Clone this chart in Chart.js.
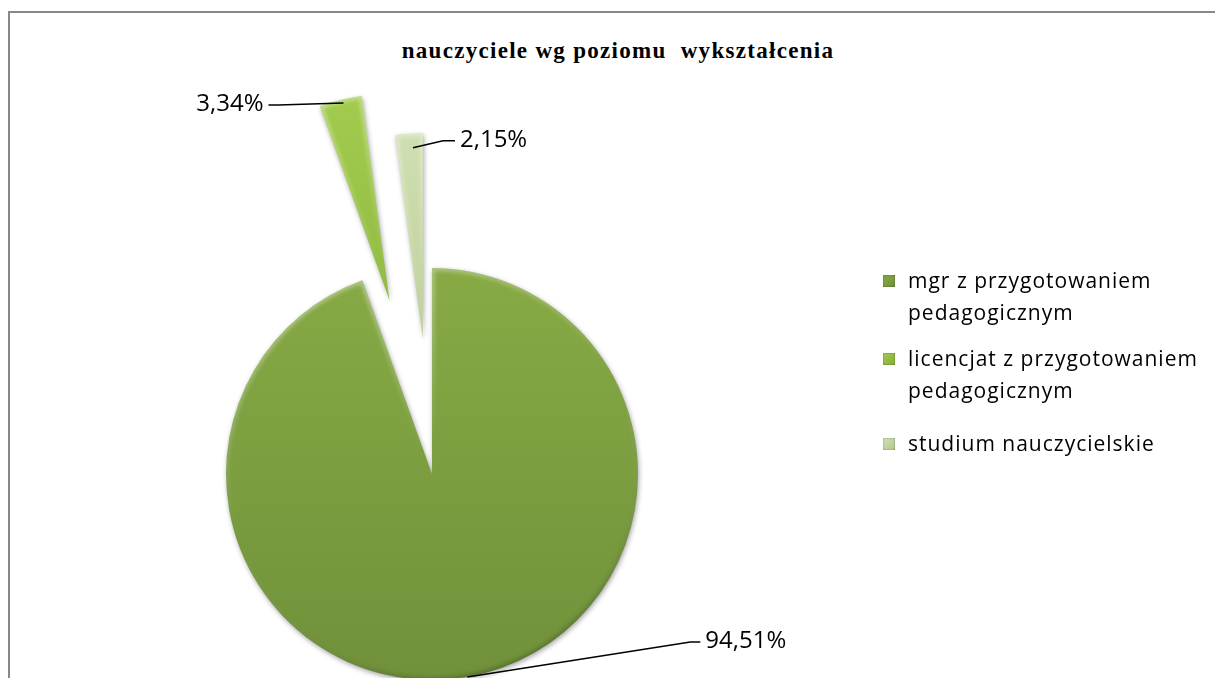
<!DOCTYPE html>
<html lang="pl">
<head>
<meta charset="UTF-8">
<title>nauczyciele wg poziomu wykształcenia</title>
<script src="https://cdn.jsdelivr.net/npm/chart.js@4.4.1/dist/chart.umd.min.js"></script>
<style>
  html, body { margin: 0; padding: 0; background: #fff; overflow: hidden; }
  #wrap { position: relative; width: 1215px; height: 678px; overflow: hidden; }
  #frame { position: absolute; left: 8px; top: 11px; width: 1300px; height: 900px;
           border-top: 2px solid #888; border-left: 2px solid #888; }
  #title { position: absolute; left: 0; top: 38px; width: 1236px; text-align: center;
           font: bold 23px "Liberation Serif", "DejaVu Serif", serif; line-height: 26px;
           letter-spacing: 1.3px; color: #000; white-space: pre; }
  #myChart { position: absolute; left: 0; top: 0; }
  .legend-item { position: absolute; left: 883px; font: 21px "Open Sans", sans-serif;
                 line-height: 31.6px; letter-spacing: 1px; color: #000; }
  .legend-item .box { position: absolute; left: 0; width: 12px; height: 12px; }
  .legend-item .txt { position: absolute; left: 25px; white-space: nowrap; }
</style>
</head>
<body>
<div id="wrap">
  <div id="frame"></div>
  <div id="title"></div>
  <canvas id="myChart" width="1215" height="900"></canvas>
  <div id="legend"></div>
</div>

<script>
'use strict';

// dane z wykresu
const chartTitle = 'nauczyciele wg poziomu  wykształcenia';
const categories = [
  ['mgr z przygotowaniem', 'pedagogicznym'],
  ['licencjat z przygotowaniem', 'pedagogicznym'],
  ['studium nauczycielskie']
];
const shares = [94.51, 3.34, 2.15];

// kolory (jasny / ciemny) dla kawałków
const palette = [
  ['#87aa45', '#70913a'],
  ['#a3cc4f', '#82ad35'],
  ['#d3e2b6', '#b3c78c']
];

const fmt = v => v.toFixed(2).replace('.', ',') + '%';

document.getElementById('title').textContent = chartTitle;

// rozsunięte kawałki - przesuwamy środek łuku wzdłuż dwusiecznej
const explodePlugin = {
  id: 'explode',
  afterDatasetsUpdate(chart, args, opts) {
    chart.getDatasetMeta(0).data.forEach((arc, i) => {
      const d = opts.distances[i] || 0;
      const mid = (arc.startAngle + arc.endAngle) / 2;
      arc.x += Math.cos(mid) * d;
      arc.y += Math.sin(mid) * d;
    });
  },
  beforeDatasetsDraw(chart) {
    const c = chart.ctx;
    c.save();
    c.shadowColor = 'rgba(0,0,0,0.35)';
    c.shadowBlur = 5;
    c.shadowOffsetX = 1;
    c.shadowOffsetY = 2;
  },
  afterDatasetsDraw(chart) {
    chart.ctx.restore();
  }
};

// efekt fazy na krawędziach
const bevelPlugin = {
  id: 'bevel',
  afterDatasetsDraw(chart) {
    const c = chart.ctx;
    chart.getDatasetMeta(0).data.forEach(arc => {
      const R = arc.outerRadius;
      c.save();
      c.beginPath();
      c.moveTo(arc.x, arc.y);
      c.arc(arc.x, arc.y, R, arc.startAngle, arc.endAngle);
      c.closePath();
      c.clip();
      const g = c.createLinearGradient(arc.x - R * 0.4, arc.y - R, arc.x + R * 0.4, arc.y + R);
      g.addColorStop(0, 'rgba(255,255,255,0.45)');
      g.addColorStop(0.45, 'rgba(255,255,255,0.0)');
      g.addColorStop(1, 'rgba(0,0,0,0.3)');
      c.filter = 'blur(2px)';
      c.strokeStyle = g;
      c.lineWidth = 5;
      c.lineJoin = 'round';
      c.stroke();
      c.restore();
    });
  }
};

// etykiety z linią odniesienia
const leaderPlugin = {
  id: 'leaders',
  afterDatasetsDraw(chart, args, opts) {
    const c = chart.ctx;
    const ds = chart.data.datasets[0];
    c.save();
    c.strokeStyle = '#000';
    c.lineWidth = 1.5;
    c.fillStyle = '#000';
    c.font = opts.font;
    chart.getDatasetMeta(0).data.forEach((arc, i) => {
      const g = opts.lines[i];
      const mid = (arc.startAngle + arc.endAngle) / 2;
      const px = arc.x + Math.cos(mid) * arc.outerRadius;
      const py = arc.y + Math.sin(mid) * arc.outerRadius;
      const sx = px + g.start[0], sy = py + g.start[1];
      const ex = px + g.elbow[0], ey = py + g.elbow[1];
      const hx = ex + g.tail;
      c.beginPath();
      c.moveTo(sx, sy);
      c.lineTo(ex, ey);
      c.lineTo(hx, ey);
      c.stroke();
      c.textBaseline = 'alphabetic';
      if (g.tail < 0) {
        c.textAlign = 'right';
        c.fillText(fmt(ds.data[i]), hx - 5, ey + 6);
      } else {
        c.textAlign = 'left';
        c.fillText(fmt(ds.data[i]), hx + 5, ey + 6);
      }
    });
    c.restore();
  }
};

function sliceFill(context) {
  const chart = context.chart;
  const area = chart.chartArea;
  const i = context.dataIndex;
  if (!area) return palette[i][0];
  const cy = (area.top + area.bottom) / 2;
  const R = 206;
  const top = i === 0 ? cy - R : cy - R - 180;
  const bottom = i === 0 ? cy + R : cy;
  const g = chart.ctx.createLinearGradient(0, top, 0, bottom);
  g.addColorStop(0, palette[i][0]);
  g.addColorStop(1, palette[i][1]);
  return g;
}

const ctx = document.getElementById('myChart').getContext('2d');
const myChart = new Chart(ctx, {
  type: 'pie',
  data: {
    labels: categories,
    datasets: [{
      data: shares,
      backgroundColor: sliceFill,
      borderWidth: 0,
      hoverOffset: 0,
      radius: 206
    }]
  },
  options: {
    responsive: false,
    devicePixelRatio: 1,
    animation: false,
    events: [],
    layout: { padding: { left: 0, right: 351, top: 48, bottom: 0 } },
    plugins: {
      legend: { display: false },
      tooltip: { enabled: false },
      title: { display: false },
      explode: { distances: [0, 179, 135] },
      leaders: {
        font: '24px "Open Sans", sans-serif',
        lines: [
          { start: [0, 0], elbow: [223, -35], tail: 10 },
          { start: [3, 3], elbow: [-62, 5], tail: -10 },
          { start: [4, 14], elbow: [34, 7], tail: 12 }
        ]
      }
    }
  },
  plugins: [explodePlugin, bevelPlugin, leaderPlugin]
});

// legenda w HTML (zawijany tekst)
const legendTops = [265, 343, 428];
const legend = document.getElementById('legend');
categories.forEach((lines, i) => {
  const item = document.createElement('div');
  item.className = 'legend-item';
  item.style.top = legendTops[i] + 'px';
  const box = document.createElement('div');
  box.className = 'box';
  box.style.top = '10px';
  box.style.background = 'linear-gradient(135deg, ' + palette[i][0] + ', ' + palette[i][1] + ')';
  box.style.boxShadow = 'inset 0 0 2px rgba(0,0,0,0.4)';
  const txt = document.createElement('div');
  txt.className = 'txt';
  txt.innerHTML = lines.join('<br>');
  item.appendChild(box);
  item.appendChild(txt);
  legend.appendChild(item);
});
</script>
</body>
</html>
